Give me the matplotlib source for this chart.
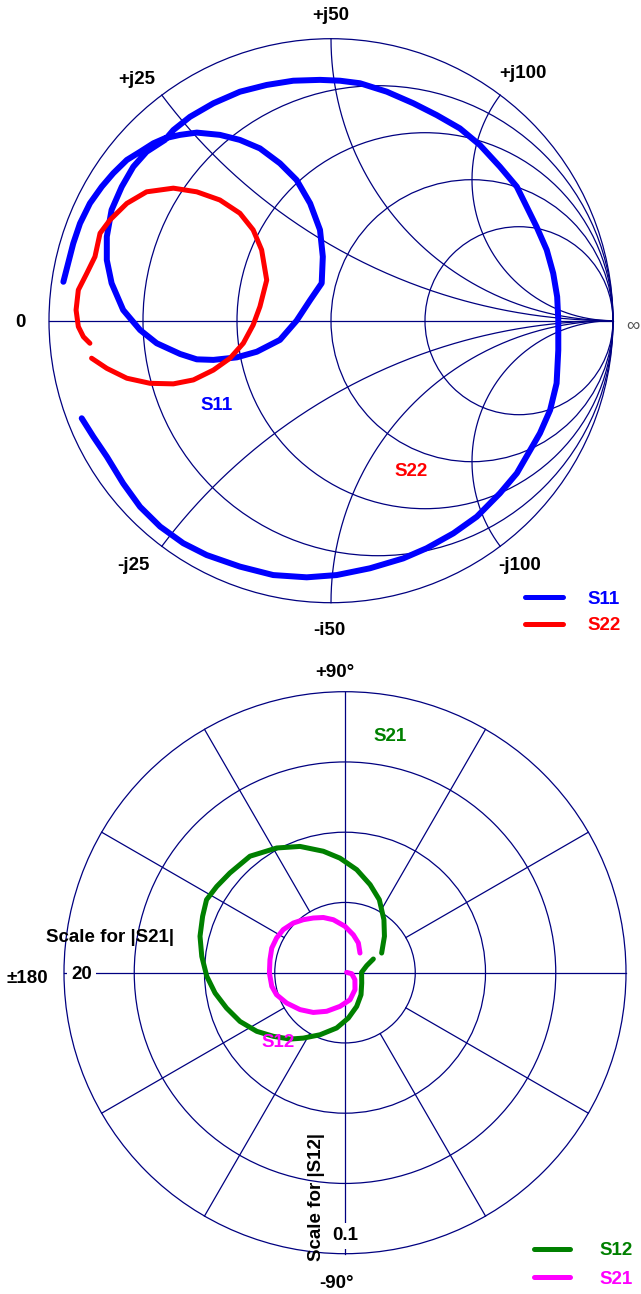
import numpy as np
import matplotlib.pyplot as plt
from matplotlib.patches import Circle

plt.rcParams['font.family'] = ['Liberation Sans', 'DejaVu Sans']
plt.rcParams['font.size'] = 13.5
plt.rcParams['font.weight'] = 'bold'

# --- Smith chart data (reflection coefficient, real / imaginary) ---
s11_re = [-0.949, -0.914, -0.890, -0.855, -0.813, -0.772, -0.724, -0.677, -0.630, -0.589,
          -0.535, -0.476, -0.394, -0.323, -0.252, -0.181, -0.122, -0.074, -0.039, -0.029,
          -0.033, -0.074, -0.122, -0.181, -0.263, -0.334, -0.417, -0.476, -0.535, -0.618,
          -0.677, -0.737, -0.778, -0.795, -0.795, -0.778, -0.742, -0.701, -0.654, -0.589,
          -0.559, -0.500, -0.417, -0.323, -0.228, -0.134, -0.039, 0.032, 0.103, 0.198,
          0.292, 0.375, 0.457, 0.528, 0.599, 0.659, 0.694, 0.729, 0.765, 0.788,
          0.802, 0.806, 0.806, 0.800, 0.777, 0.741, 0.700, 0.659, 0.599, 0.517,
          0.434, 0.339, 0.256, 0.138, 0.020, -0.086, -0.205, -0.323, -0.441, -0.524,
          -0.606, -0.677, -0.737, -0.795, -0.843, -0.884]
s11_im = [0.138, 0.274, 0.345, 0.416, 0.475, 0.523, 0.570, 0.599, 0.629, 0.647,
          0.659, 0.667, 0.659, 0.641, 0.611, 0.558, 0.499, 0.416, 0.322, 0.227,
          0.133, 0.073, 0.000, -0.068, -0.110, -0.130, -0.139, -0.137, -0.118, -0.080,
          -0.033, 0.038, 0.133, 0.215, 0.298, 0.393, 0.475, 0.546, 0.599, 0.641,
          0.676, 0.723, 0.771, 0.812, 0.836, 0.851, 0.854, 0.851, 0.842, 0.812,
          0.771, 0.729, 0.682, 0.623, 0.546, 0.475, 0.404, 0.333, 0.251, 0.168,
          0.085, 0.002, -0.104, -0.222, -0.317, -0.399, -0.470, -0.541, -0.612, -0.695,
          -0.754, -0.807, -0.843, -0.878, -0.902, -0.910, -0.902, -0.872, -0.831, -0.789,
          -0.730, -0.660, -0.577, -0.482, -0.411, -0.346]

s22_re = [-0.849, -0.795, -0.724, -0.642, -0.559, -0.488, -0.417, -0.358, -0.311, -0.276,
          -0.252, -0.228, -0.246, -0.276, -0.323, -0.394, -0.476, -0.559, -0.654, -0.724,
          -0.784, -0.819, -0.837, -0.866, -0.896, -0.904, -0.896, -0.878, -0.855]
s22_im = [-0.133, -0.169, -0.204, -0.222, -0.224, -0.210, -0.175, -0.133, -0.080, -0.015,
          0.050, 0.144, 0.251, 0.322, 0.381, 0.428, 0.457, 0.470, 0.457, 0.416,
          0.357, 0.310, 0.227, 0.168, 0.109, 0.038, -0.021, -0.057, -0.080]

resistances = [0.2, 0.5, 1, 2]
reactances = [0.5, 1, 2]

# --- polar chart data (magnitude, angle in degrees) ---
S21_SCALE = 20
S12_SCALE = 0.1
s12_mag = [0.0112, 0.0081, 0.0059, 0.0070, 0.0097, 0.0127, 0.0162, 0.0199, 0.0238, 0.0276,
           0.0307, 0.0341, 0.0377, 0.0412, 0.0440, 0.0468, 0.0492, 0.0513, 0.0532, 0.0545,
           0.0557, 0.0550, 0.0542, 0.0535, 0.0506, 0.0477, 0.0439, 0.0408, 0.0369, 0.0326,
           0.0287, 0.0234, 0.0191, 0.0148]
s12_ang = [25.8, 17.9, 1.1, -31.8, -54.0, -70.9, -85.8, -98.6, -111.9, -122.5,
           -129.7, -138.4, -146.4, -155.1, -163.4, -171.1, -178.5, 173.5, 165.9, 158.4,
           152.2, 146.1, 139.1, 129.2, 118.7, 109.6, 100.1, 92.5, 83.5, 74.1,
           64.8, 53.7, 42.7, 28.2]
s21_mag = [0.12, 0.48, 0.86, 1.40, 1.96, 2.42, 3.04, 3.62, 4.14, 4.68,
           5.12, 5.30, 5.38, 5.42, 5.50, 5.46, 5.36, 5.10, 4.80, 4.50,
           4.22, 3.86, 3.30, 2.76, 2.32, 1.76]
s21_ang = [11, -8.5, -35, -59.5, -79.5, -98.4, -115.4, -128.6, -140.6, -152.5,
           -162.2, -169.4, -179.7, 170.2, 161.4, 153.1, 145.1, 136.1, 128.2, 120.1,
           111.4, 102.4, 90, 77.6, 65.8, 52.7]

grid_col = '#000080'
glw = 0.9

fig = plt.figure(figsize=(6.41, 12.94), dpi=100)

# ================= Smith chart =================
ax1 = fig.add_axes([0, 1 - 650 / 1294, 1, 650 / 1294])
ax1.set_xlim(-331 / 282, 310 / 282)
ax1.set_ylim((320.7 - 650) / 282, 320.7 / 282)
ax1.axis('off')

ax1.add_patch(Circle((0, 0), 1, fill=False, ec=grid_col, lw=glw))
ax1.plot([-1, 1], [0, 0], color=grid_col, lw=glw)
for r in resistances:
    ax1.add_patch(Circle((r / (1 + r), 0), 1 / (1 + r), fill=False, ec=grid_col, lw=glw))
rr = np.concatenate([[0], np.logspace(-3, 4, 500)])
for x in reactances:
    for sgn in (1, -1):
        z = rr + 1j * sgn * x
        g = (z - 1) / (z + 1)
        ax1.plot(g.real, g.imag, color=grid_col, lw=glw)

s11_line, = ax1.plot(s11_re, s11_im, color='#0000ff', lw=4.3, solid_capstyle='round',
                     solid_joinstyle='round', label='S11')
s22_line, = ax1.plot(s22_re, s22_im, color='#ff0000', lw=3.6, solid_capstyle='round',
                     solid_joinstyle='round', label='S22')

ax1.text(0.0, 1.084, '+j50', ha='center', va='center')
ax1.text(-0.688, 0.854, '+j25', ha='center', va='center')
ax1.text(0.681, 0.878, '+j100', ha='center', va='center')
ax1.text(-0.699, -0.867, '-j25', ha='center', va='center')
ax1.text(-0.004, -1.097, '-i50', ha='center', va='center')
ax1.text(0.670, -0.867, '-j100', ha='center', va='center')
ax1.text(-1.103, -0.005, '0', ha='center', va='center')
ax1.text(1.071, -0.02, '∞', ha='center', va='center', color='#555555', fontweight='normal')
ax1.text(-0.404, -0.299, 'S11', ha='center', va='center', color='#0000ff')
ax1.text(0.284, -0.536, 'S22', ha='center', va='center', color='#ff0000')

leg1 = ax1.legend(handles=[s11_line, s22_line], loc='center left',
                  bbox_to_anchor=(525 / 641, 1 - 612.5 / 1294), bbox_transform=fig.transFigure,
                  frameon=False, borderpad=0, borderaxespad=0, handlelength=2.0,
                  handletextpad=1.35, labelspacing=0.5)
for t, l in zip(leg1.get_texts(), leg1.get_lines()):
    t.set_color(l.get_color())
    l.set_linewidth(3.6)

# ================= polar chart =================
ax2 = fig.add_axes([0, 0, 1, 644 / 1294])
ax2.set_xlim(-345 / 281, 296 / 281)
ax2.set_ylim((972.7 - 1294) / 281, (972.7 - 650) / 281)
ax2.axis('off')

for rad in [0.25, 0.5, 0.75, 1.0]:
    ax2.add_patch(Circle((0, 0), rad, fill=False, ec=grid_col, lw=glw))
ax2.plot([-1, 1], [0, 0], color=grid_col, lw=glw)
ax2.plot([0, 0], [-1, 1], color=grid_col, lw=glw)
for a in [30, 60, 120, 150, 210, 240, 300, 330]:
    t = np.radians(a)
    ax2.plot([0.25 * np.cos(t), np.cos(t)], [0.25 * np.sin(t), np.sin(t)], color=grid_col, lw=glw)

m12 = np.array(s12_mag) / S12_SCALE
a12 = np.radians(s12_ang)
m21 = np.array(s21_mag) / S21_SCALE
a21 = np.radians(s21_ang)
s12_line, = ax2.plot(m12 * np.cos(a12), m12 * np.sin(a12), color='#008000', lw=3.6,
                     solid_capstyle='round', solid_joinstyle='round', label='S12')
s21_line, = ax2.plot(m21 * np.cos(a21), m21 * np.sin(a21), color='#ff00ff', lw=3.6,
                     solid_capstyle='round', solid_joinstyle='round', label='S21')

ax2.text(-0.036, 1.067, '+90°', ha='center', va='center')
ax2.text(-0.032, -1.105, '-90°', ha='center', va='center')
ax2.text(-1.057, -0.019, '±180', ha='right', va='center')
ax2.text(-0.936, -0.008, '20', ha='center', va='center', zorder=5,
         bbox=dict(facecolor='white', edgecolor='none', pad=3))
ax2.text(0.0, -0.937, '0.1', ha='center', va='center', zorder=5,
         bbox=dict(facecolor='white', edgecolor='none', pad=3))
ax2.text(-0.836, 0.127, 'Scale for |S21|', ha='center', va='center')
ax2.text(-0.103, -0.798, 'Scale for |S12|', ha='center', va='center', rotation=90, zorder=5)
ax2.text(0.160, 0.839, 'S21', ha='center', va='center', color='#008000')
ax2.text(-0.238, -0.25, 'S12', ha='center', va='center', color='#ff00ff', zorder=5)

leg2 = ax2.legend(handles=[s12_line, s21_line], loc='center left',
                  bbox_to_anchor=(534 / 641, 1 - 1265 / 1294), bbox_transform=fig.transFigure,
                  frameon=False, borderpad=0, borderaxespad=0, handlelength=1.9,
                  handletextpad=1.6, labelspacing=0.62)
for t, l in zip(leg2.get_texts(), leg2.get_lines()):
    t.set_color(l.get_color())

fig.savefig('out.png', dpi=100)
